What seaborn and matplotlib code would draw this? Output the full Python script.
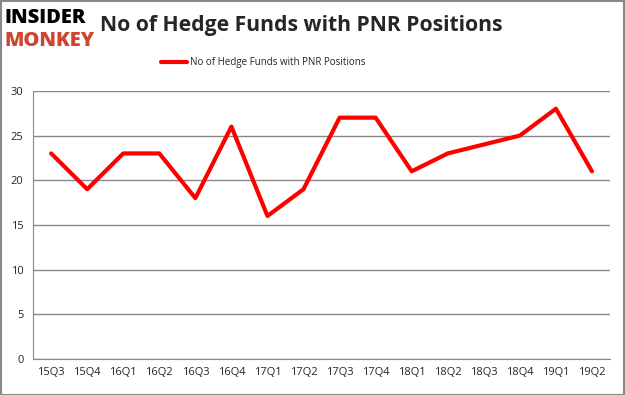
import numpy as np
import pandas as pd
import seaborn as sns
from matplotlib import pyplot as plt

# dữ liệu
quarters = ['15Q3', '15Q4', '16Q1', '16Q2', '16Q3', '16Q4', '17Q1', '17Q2',
            '17Q3', '17Q4', '18Q1', '18Q2', '18Q3', '18Q4', '19Q1', '19Q2']
funds = [23, 19, 23, 23, 18, 26, 16, 19, 27, 27, 21, 23, 24, 25, 28, 21]
series_name = 'No of Hedge Funds with PNR Positions'
y_ticks = [0, 5, 10, 15, 20, 25, 30]

df = pd.DataFrame({'quarter': quarters, 'funds': funds})

sns.set_style('white')
plt.rcParams['font.family'] = ['Open Sans', 'DejaVu Sans']

fig = plt.figure(figsize=(6.25, 3.95), dpi=100)
ax = fig.add_axes([0.053, 0.091, 0.923, 0.679])

sns.lineplot(data=df, x='quarter', y='funds', color='#ff0000', linewidth=3,
             ax=ax, label=series_name, sort=False)

ax.set_xlim(-0.5, len(quarters) - 0.5)
ax.set_ylim(0, 30)
ax.set_yticks(y_ticks)
ax.set_xticks(range(len(quarters)))
ax.set_xticklabels(quarters, fontsize=8)
ax.set_xticks(np.arange(-0.5, len(quarters)), minor=True)
ax.tick_params(axis='x', which='major', length=0, pad=6)
ax.tick_params(axis='x', which='minor', length=4, color='#888888', direction='out')
ax.tick_params(axis='y', length=4, color='#888888', direction='out', labelsize=8, pad=3)
ax.grid(axis='y', color='#888888', linewidth=1)
ax.set_xlabel('')
ax.set_ylabel('')
for s in ['top', 'right']:
    ax.spines[s].set_visible(False)
for s in ['left', 'bottom']:
    ax.spines[s].set_color('#888888')

ax.legend(loc='center', bbox_to_anchor=(0.399, 1.105), frameon=False,
          fontsize=7, handlelength=2.6, handletextpad=0.3)

# tiêu đề + logo
fig.text(0.16, 0.935, series_name, fontsize=15.2, fontweight='bold', va='center')
fig.text(0.008, 0.955, 'INSIDER', fontsize=14.5, fontweight='heavy', color='black', va='center')
fig.text(0.008, 0.895, 'MONKEY', fontsize=14.5, fontweight='heavy', color='#d04530', va='center')

# viền ngoài
fig.patches.append(plt.Rectangle((0.001, 0.001), 0.997, 0.997, transform=fig.transFigure,
                                 fill=False, edgecolor='#888888', linewidth=1.5))

fig.savefig('out.png', dpi=100)
